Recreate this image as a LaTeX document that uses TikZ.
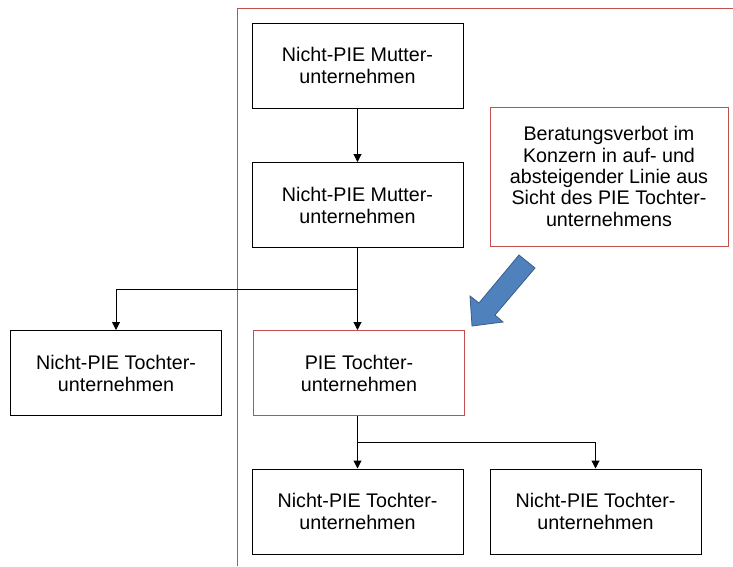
\documentclass[tikz,border=0pt]{standalone}
\usepackage{fontspec}
\setmainfont{Liberation Sans}
\usepackage{xcolor}
\usepackage{tikz}
\usetikzlibrary{arrows.meta, positioning, shapes}
\definecolor{boxred}{HTML}{C0504D}
\definecolor{arrowblue}{HTML}{4F81BD}
\definecolor{arrowedge}{HTML}{385D8A}
\begin{document}
\begin{tikzpicture}[
    x=1pt, y=-1pt,
    box/.style={rectangle, draw, line width=1pt, minimum width=211pt, minimum height=85pt,
                align=center, font=\fontsize{19.7}{22}\selectfont},
    redbox/.style={box, draw=boxred},
    arrow/.style={-{Triangle[length=8pt, width=8pt]}, line width=1pt},
    frame/.style={draw=boxred, line width=1pt},
    blockarrow/.style={fill=arrowblue, draw=arrowedge, line width=0.8pt, line join=miter}
]
\useasboundingbox (0,0) rectangle (733,566);
\draw[frame] (733,8.5) -- (237,8.5) -- (237,566);

\node[box] (m1)  at (357.5,65.5) {Nicht-PIE Mutter-\\unternehmen};
\node[box] (m2)  at (357.5,205)  {Nicht-PIE Mutter-\\unternehmen};
\node[redbox, minimum width=238pt, minimum height=139pt,
      font=\fontsize{19.7}{21.4}\selectfont] (ban) at (609,176.5)
      {Beratungsverbot im\\Konzern in auf- und\\absteigender Linie aus\\Sicht des PIE Tochter-\\unternehmens};
\node[box] (t1)  at (116,373)    {Nicht-PIE Tochter-\\unternehmen};
\node[redbox] (pie) at (359,373) {PIE Tochter-\\unternehmen};
\node[box] (t2)  at (357.5,511.5) {Nicht-PIE Tochter-\\unternehmen};
\node[box] (t3)  at (595.5,511.5) {Nicht-PIE Tochter-\\unternehmen};

\coordinate (j1) at (357.5,289);
\coordinate (j2) at (357.5,442);

\draw[arrow] (m1.south -| j1) -- (m2.north -| j1);
\draw[line width=1pt] (m2.south -| j1) -- (j1);
\draw[arrow] (j1) -| (t1.north);
\draw[arrow] (j1) -- (pie.north -| j1);
\draw[line width=1pt] (pie.south -| j2) -- (j2);
\draw[arrow] (j2) -- (t2.north);
\draw[arrow] (j2) -| (t3.north);

\draw[blockarrow] (519,255) -- (535,268) -- (495,315) -- (503,322) -- (472,326)
    -- (470,296) -- (479,303) -- cycle;
\end{tikzpicture}
\end{document}
